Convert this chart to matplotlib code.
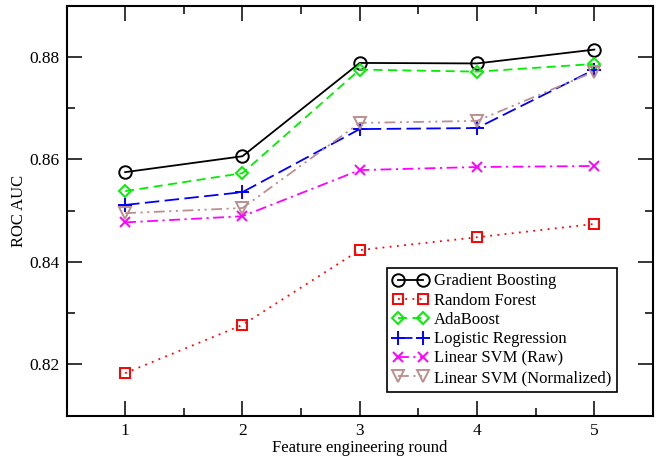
import matplotlib
matplotlib.use("Agg")
import matplotlib.pyplot as plt
from matplotlib.ticker import MultipleLocator

plt.rcParams["font.family"] = ["Liberation Serif", "DejaVu Serif"]

rounds = [1, 2, 3, 4, 5]
gradient_boosting = [0.8575, 0.8606, 0.8788, 0.8787, 0.8814]
random_forest = [0.8183, 0.8277, 0.8423, 0.8448, 0.8474]
adaboost = [0.8538, 0.8573, 0.8775, 0.8771, 0.8786]
logistic_regression = [0.8511, 0.8536, 0.8659, 0.8661, 0.8775]
linear_svm_raw = [0.8477, 0.8489, 0.8579, 0.8585, 0.8587]
linear_svm_norm = [0.8495, 0.8505, 0.8671, 0.8675, 0.8771]

fig = plt.figure(figsize=(6.6, 4.57), dpi=100)
ax = fig.add_axes([66.5 / 660, 1 - 415.7 / 457, (653 - 66.5) / 660, (415.7 - 5.5) / 457])

series = [
    ("Gradient Boosting", gradient_boosting, "black", "-", "o", 9),
    ("Random Forest", random_forest, "red", (0, (1, 3)), "s", 7.5),
    ("AdaBoost", adaboost, "#00ee00", (0, (5, 3)), "D", 6.5),
    ("Logistic Regression", logistic_regression, "blue", (0, (8, 3)), "+", 10),
    ("Linear SVM (Raw)", linear_svm_raw, "magenta", (0, (6, 2.5, 1.2, 2.5)), "x", 7),
    ("Linear SVM (Normalized)", linear_svm_norm, "#bc8f8f", (0, (6, 2.5, 1.2, 2.5, 1.2, 2.5)), "v", 8),
]

for label, vals, color, ls, marker, ms in series:
    ax.plot(rounds, vals, color=color, linestyle=ls, linewidth=1.3,
            marker=marker, markersize=ms, markerfacecolor="none",
            markeredgecolor=color, markeredgewidth=1.4, label=label)

ax.set_xlim(0.5, 5.5)
ax.set_ylim(0.81, 0.89)
ax.xaxis.set_major_locator(MultipleLocator(1))
ax.xaxis.set_minor_locator(MultipleLocator(0.5))
ax.yaxis.set_major_locator(MultipleLocator(0.02))
ax.yaxis.set_minor_locator(MultipleLocator(0.01))
ax.yaxis.set_major_formatter(plt.FuncFormatter(lambda v, _: f"{v:.2f}"))
ax.tick_params(which="both", direction="in", top=True, right=True, labelsize=12.5, width=1.1)
ax.tick_params(which="major", length=11)
ax.tick_params(which="minor", length=6)
ax.tick_params(axis="x", pad=5)
ax.tick_params(axis="y", pad=5)
for sp in ax.spines.values():
    sp.set_linewidth(1.5)

ax.set_xlabel("Feature engineering round", fontsize=12, labelpad=1)
ax.set_ylabel("ROC AUC", fontsize=12, labelpad=2)

leg = ax.legend(loc="lower right", bbox_to_anchor=(0.9386, 0.058), fontsize=12,
                numpoints=2, handlelength=2.1, handletextpad=0.35,
                labelspacing=0.2, borderpad=0.35, borderaxespad=0,
                fancybox=False, framealpha=1, edgecolor="black")
leg.get_frame().set_linewidth(1.2)

fig.savefig("out.png", dpi=100)
